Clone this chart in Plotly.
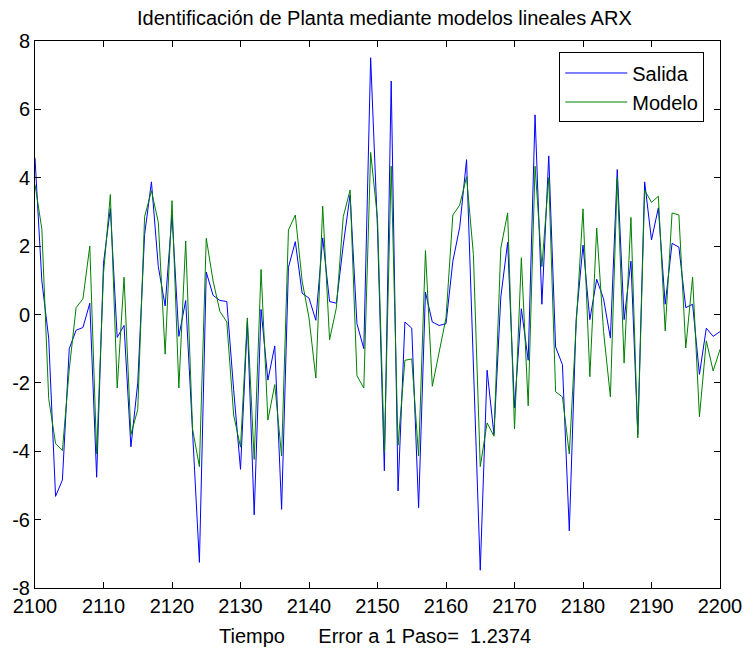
import plotly.graph_objects as go

# Time axis: samples 2100..2200
tiempo = list(range(2100, 2201))

# Measured plant output
salida = [
    4.58, 0.98, -0.69, -5.32, -4.84, -1.00, -0.46, -0.38, 0.33, -4.76,
    1.50, 3.10, -0.67, -0.32, -3.87, -2.00, 2.34, 3.88, 1.40, 0.25,
    2.91, -0.64, 0.41, -3.40, -7.25, 1.24, 0.56, 0.41, 0.38, -2.20,
    -4.53, -0.20, -5.86, 0.15, -1.92, -0.92, -5.70, 1.38, 2.13, 0.62,
    0.48, -0.17, 2.24, 0.38, 0.33, 2.03, 3.50, -0.27, -1.00, 7.51,
    2.50, -4.57, 6.83, -5.16, -0.22, -0.40, -5.65, 0.65, -0.22, -0.32,
    -0.27, 1.56, 2.55, 4.53, -1.20, -7.48, -1.63, -3.51, 0.51, 2.11,
    -2.73, 0.17, -1.34, 5.84, 0.30, 4.64, -0.95, -1.47, -6.33, -0.15,
    2.03, -0.15, 1.03, 0.46, -0.69, 4.24, -0.15, 1.56, -3.50, 3.88,
    2.18, 3.12, 0.30, 2.08, 1.97, 0.20, 0.30, -1.75, -0.40, -0.64,
    -0.50,
]

# One-step-ahead ARX model prediction
modelo = [
    3.80, 2.50, -2.46, -3.77, -3.98, -1.60, 0.20, 0.46, 2.00, -4.08,
    1.20, 3.51, -2.15, 1.09, -3.51, -2.78, 2.86, 3.62, 2.70, -1.16,
    3.33, -2.15, 2.15, -3.35, -4.45, 2.23, 0.98, 0.09, -0.22, -2.94,
    -3.88, -0.10, -4.24, 1.32, -3.09, -2.05, -4.14, 2.47, 2.91, 0.98,
    -0.10, -1.86, 3.17, -0.74, 0.20, 2.86, 3.64, -1.79, -2.15, 4.74,
    2.81, -4.03, 4.34, -3.82, -1.34, -1.30, -4.14, 1.87, -2.10, -1.10,
    -0.10, 2.91, 3.20, 4.03, 1.76, -4.45, -3.17, -3.56, 1.94, 2.97,
    -3.35, 1.66, -2.67, 4.34, 1.40, 4.01, -2.26, -2.41, -4.08, -0.30,
    3.09, -1.82, 2.53, -0.50, -2.41, 4.01, -1.42, 2.84, -3.61, 3.64,
    3.28, 3.46, -0.48, 2.97, 2.91, -0.98, 1.09, -2.99, -0.77, -1.65,
    -1.02,
]

x_ticks = list(range(2100, 2201, 10))
y_ticks = list(range(-8, 9, 2))
# plain hyphen for negative labels
y_ticktext = [str(v) for v in y_ticks]
error_1_paso = 1.2374

FONT = "Liberation Sans, Arial, Helvetica, sans-serif"
FS = 20
NB = "\u00a0"

fig = go.Figure()
fig.add_trace(go.Scatter(x=tiempo, y=salida, mode="lines", name="Salida",
                         line=dict(color="#0000FF", width=1)))
fig.add_trace(go.Scatter(x=tiempo, y=modelo, mode="lines", name="Modelo",
                         line=dict(color="#008000", width=1)))

axis_common = dict(
    showline=True, linecolor="black", linewidth=1, mirror="ticks",
    ticks="inside", ticklen=6, tickcolor="black", tickwidth=1,
    showgrid=False, zeroline=False,
    tickfont=dict(family=FONT, size=FS, color="black"),
)

fig.update_xaxes(range=[2100, 2200], tickvals=x_ticks, **axis_common)
fig.update_yaxes(range=[-8, 8], tickvals=y_ticks, ticktext=y_ticktext, **axis_common)

# x-axis caption with the one-step prediction error
fig.add_annotation(
    text="Tiempo" + NB * 6 + "Error a 1 Paso=" + NB * 2 + f"{error_1_paso:.4f}",
    xref="paper", yref="paper", x=0.497, y=-0.088,
    xanchor="center", yanchor="middle", showarrow=False,
    font=dict(family=FONT, size=FS, color="black"),
)

fig.update_layout(
    width=754, height=648,
    margin=dict(l=35, r=24, t=41, b=60),
    paper_bgcolor="white", plot_bgcolor="white",
    title=dict(text="Identificación de Planta mediante modelos lineales ARX",
               x=0.51, xanchor="center", xref="paper",
               y=1 - 18 / 648, yanchor="middle",
               font=dict(family=FONT, size=FS, color="black")),
    legend=dict(x=0.977, y=0.979, xanchor="right", yanchor="top",
                bgcolor="white", bordercolor="black", borderwidth=1,
                font=dict(family=FONT, size=FS, color="black"),
                itemwidth=62, tracegroupgap=0),
    showlegend=True,
)

fig.write_html("out.html")
